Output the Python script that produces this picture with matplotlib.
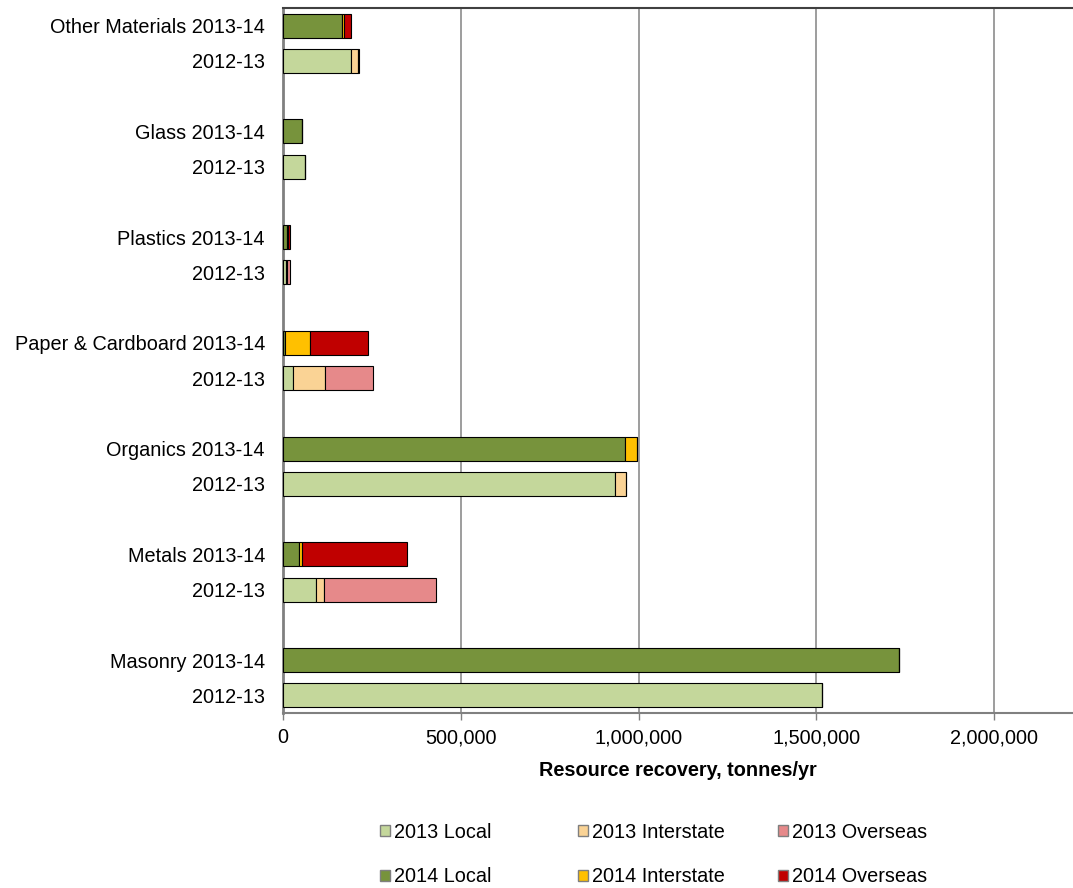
import numpy as np
import matplotlib.pyplot as plt
from matplotlib.ticker import FuncFormatter
from matplotlib.patches import Patch

plt.rcParams['font.family'] = ['Liberation Sans', 'DejaVu Sans']

# bottom to top
materials = ['Masonry', 'Metals', 'Organics', 'Paper & Cardboard', 'Plastics', 'Glass', 'Other Materials']

# 2012-13 bars
local_2013 = [1517000, 93000, 935000, 29000, 8000, 61000, 192000]
inter_2013 = [0, 22000, 30000, 90000, 4000, 0, 19000]
over_2013 = [0, 315000, 0, 133000, 9000, 0, 4000]

# 2013-14 bars
local_2014 = [1733000, 46000, 961000, 5000, 12000, 54000, 165000]
inter_2014 = [0, 7000, 35000, 72000, 1000, 0, 7000]
over_2014 = [0, 295000, 0, 161000, 8000, 0, 20000]

c13 = ['#C4D79B', '#FAD395', '#E6898A']
c14 = ['#77933C', '#FFC000', '#C00000']
names13 = ['2013 Local', '2013 Interstate', '2013 Overseas']
names14 = ['2014 Local', '2014 Interstate', '2014 Overseas']

fs = 14.3

fig = plt.figure(figsize=(10.73, 8.88), dpi=100)
ax = fig.add_axes([0.2637, 0.197, 0.7363, 0.794])

g = np.arange(len(materials))
y13 = 3 * g
y14 = 3 * g + 1
h = 0.68

left = np.zeros(len(materials))
for vals, col in zip([local_2013, inter_2013, over_2013], c13):
    ax.barh(y13, vals, left=left, height=h, color=col, edgecolor='black', linewidth=0.8, zorder=3)
    left += np.array(vals)

left = np.zeros(len(materials))
for vals, col in zip([local_2014, inter_2014, over_2014], c14):
    ax.barh(y14, vals, left=left, height=h, color=col, edgecolor='black', linewidth=0.8, zorder=3)
    left += np.array(vals)

yt = np.concatenate([y13, y14])
yl = ['2012-13'] * len(materials) + [m + ' 2013-14' for m in materials]
ax.set_yticks(yt)
ax.set_yticklabels(yl, fontsize=fs)
ax.set_ylim(-0.5, 19.5)

ax.set_xlim(0, 2222000)
ax.set_xticks([0, 500000, 1000000, 1500000, 2000000])
ax.xaxis.set_major_formatter(FuncFormatter(lambda v, p: f'{int(v):,}'))
ax.tick_params(axis='x', labelsize=fs, length=5, width=1, color='#808080', pad=6)
ax.tick_params(axis='y', length=0, pad=13)

ax.grid(axis='x', color='#8C8C8C', linewidth=1.2, zorder=0)
ax.set_axisbelow(True)

ax.spines['right'].set_visible(False)
ax.spines['left'].set_color('#808080')
ax.spines['left'].set_linewidth(2)
ax.spines['bottom'].set_color('#808080')
ax.spines['bottom'].set_linewidth(1.5)
ax.spines['top'].set_color('#404040')
ax.spines['top'].set_linewidth(1.5)

ax.set_xlabel('Resource recovery, tonnes/yr', fontsize=fs, fontweight='bold', labelpad=10)

# legend: one small legend per column so the columns sit at even spacing
col_x = [0.354, 0.5387, 0.725]
for x, a, b, ca, cb in zip(col_x, names13, names14, c13, c14):
    hs = [Patch(facecolor=ca, edgecolor='#7F7F7F', label=a),
          Patch(facecolor=cb, edgecolor='#7F7F7F', label=b)]
    fig.legend(handles=hs, loc='center left', bbox_to_anchor=(x, 0.0377),
               frameon=False, fontsize=fs, handlelength=0.5, handleheight=0.5,
               handletextpad=0.2, labelspacing=1.3, borderpad=0, borderaxespad=0)

fig.savefig('out.png', dpi=100)
